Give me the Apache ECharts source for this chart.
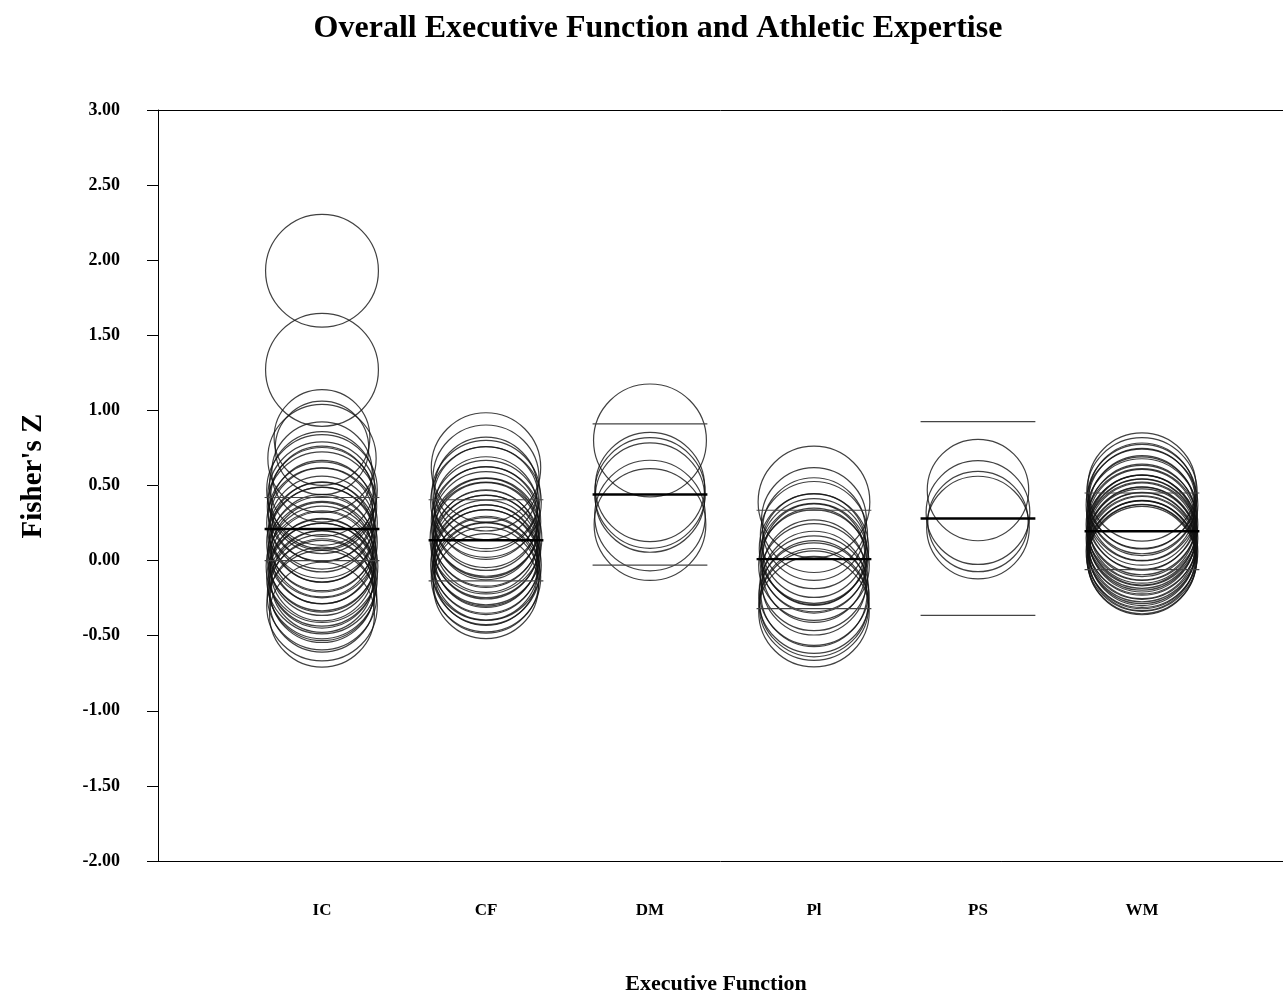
<!DOCTYPE html>
<html>
<head>
<meta charset="utf-8">
<title>Overall Executive Function and Athletic Expertise</title>
<script src="https://cdn.jsdelivr.net/npm/echarts@6/dist/echarts.min.js"></script>
<style>
  html, body { margin: 0; padding: 0; background: #fff; }
  #chart { width: 1283px; height: 998px; }
</style>
</head>
<body>
<div id="chart"></div>
<script>
// Executive function domains on the x axis
const categories = ['IC', 'CF', 'DM', 'Pl', 'PS', 'WM'];

// Study effect sizes (Fisher's Z) for each domain
const zIC = [1.93, 1.27, 0.82, 0.75, 0.68, 0.59, 0.51, 0.47, 0.43, 0.42, 0.40, 0.36, 0.33, 0.30, 0.27, 0.25, 0.21, 0.19, 0.16, 0.14, 0.12, 0.10, 0.07, 0.05, 0.03, 0.01, -0.02, -0.04, -0.06, -0.08, -0.10, -0.12, -0.14, -0.16, -0.18, -0.20, -0.23, -0.26, -0.30, -0.36];
const zCF = [0.62, 0.55, 0.48, 0.44, 0.41, 0.39, 0.35, 0.31, 0.28, 0.26, 0.24, 0.21, 0.19, 0.17, 0.15, 0.13, 0.11, 0.09, 0.07, 0.05, 0.03, 0.01, -0.01, -0.03, -0.05, -0.07, -0.09, -0.11, -0.13, -0.17];
const zDM = [0.80, 0.49, 0.45, 0.42, 0.30, 0.24];
const zPl = [0.39, 0.27, 0.21, 0.17, 0.10, 0.08, 0.06, 0.04, 0.02, 0.00, -0.03, -0.07, -0.11, -0.15, -0.20, -0.22, -0.25, -0.28, -0.30, -0.34];
const zPS = [0.47, 0.32, 0.26, 0.22];
const zWM = [0.49, 0.45, 0.43, 0.41, 0.39, 0.37, 0.35, 0.33, 0.31, 0.29, 0.27, 0.25, 0.24, 0.22, 0.21, 0.20, 0.19, 0.18, 0.16, 0.15, 0.14, 0.13, 0.11, 0.10, 0.09, 0.07, 0.06, 0.05, 0.04, 0.03, 0.02, 0.01, 0.00];

// Relative study weights (bubble size)
const wIC = [0.99, 0.99, 0.84, 0.82, 0.95, 0.88, 0.92, 0.97, 0.95, 0.90, 0.93, 0.96, 0.89, 0.94, 0.91, 0.97, 0.93, 0.88, 0.95, 0.92, 0.97, 0.90, 0.94, 0.89, 0.96, 0.93, 0.91, 0.98, 0.90, 0.94, 0.92, 0.97, 0.89, 0.95, 0.93, 0.91, 0.96, 0.92, 0.97, 0.92];
const wCF = [0.96, 0.93, 0.90, 0.95, 0.92, 0.97, 0.90, 0.94, 0.91, 0.96, 0.93, 0.89, 0.95, 0.92, 0.98, 0.90, 0.94, 0.91, 0.96, 0.93, 0.90, 0.95, 0.92, 0.97, 0.91, 0.94, 0.90, 0.96, 0.93, 0.92];
const wDM = [0.99, 0.96, 0.97, 0.96, 0.97, 0.98];
const wPl = [0.98, 0.92, 0.90, 0.94, 0.91, 0.96, 0.93, 0.89, 0.95, 0.92, 0.97, 0.90, 0.94, 0.91, 0.96, 0.93, 0.97, 0.95, 0.96, 0.97];
const wPS = [0.89, 0.91, 0.88, 0.90];
const wWM = [0.95, 0.97, 0.93, 0.96, 0.94, 0.98, 0.92, 0.95, 0.97, 0.93, 0.96, 0.94, 0.98, 0.92, 0.95, 0.97, 0.93, 0.96, 0.94, 0.98, 0.92, 0.95, 0.97, 0.93, 0.96, 0.94, 0.98, 0.92, 0.95, 0.97, 0.93, 0.96, 0.95];

// Pooled estimate with lower and upper confidence bounds per domain
const pooledZ = [0.21, 0.135, 0.44, 0.01, 0.28, 0.195];
const ciLower = [0.00, -0.135, -0.03, -0.32, -0.365, -0.06];
const ciUpper = [0.42, 0.405, 0.91, 0.335, 0.925, 0.45];

// Y axis ticks
const yMin = -2, yMax = 3, yStep = 0.5;

const effects = [zIC, zCF, zDM, zPl, zPS, zWM];
const weights = [wIC, wCF, wDM, wPl, wPS, wWM];

const FONT = '"Liberation Serif", "Times New Roman", serif';
const MAX_RADIUS = 57;     // px radius of a full-weight bubble
const HALF_SPAN = 0.35;    // half length of the pooled / CI segments in x units
const X_MAX = 6.86;        // x range shown; the frame continues past the right edge

const chart = echarts.init(document.getElementById('chart'), null, { renderer: 'canvas' });

const bubbleSeries = categories.map((name, i) => ({
  type: 'scatter',
  name: name,
  symbol: 'circle',
  symbolSize: d => 2 * MAX_RADIUS * d[2],
  itemStyle: { color: 'rgba(0,0,0,0)', borderColor: '#111', borderWidth: 1.2 },
  emphasis: { disabled: true },
  silent: true,
  z: 2,
  data: effects[i].map((z, k) => [i + 1, z, weights[i][k]])
}));

const summarySeries = {
  type: 'custom',
  name: 'pooled',
  silent: true,
  z: 5,
  clip: false,
  data: categories.map((c, i) => [i + 1, pooledZ[i], ciLower[i], ciUpper[i]]),
  renderItem: function (params, api) {
    const x = api.value(0);
    const seg = (v, w, col) => {
      const a = api.coord([x - HALF_SPAN, v]);
      const b = api.coord([x + HALF_SPAN, v]);
      return {
        type: 'line',
        shape: { x1: a[0], y1: a[1], x2: b[0], y2: b[1] },
        style: { stroke: col, lineWidth: w }
      };
    };
    return {
      type: 'group',
      children: [
        seg(api.value(2), 1.1, '#444'),
        seg(api.value(3), 1.1, '#444'),
        seg(api.value(1), 2.4, '#000')
      ]
    };
  }
};

chart.setOption({
  animation: false,
  backgroundColor: '#fff',
  grid: { left: 158, top: 110, bottom: 137, right: 0, show: false },
  xAxis: [
    {
      type: 'value',
      position: 'bottom',
      min: 0, max: X_MAX, interval: 1,
      axisLine: { show: true, onZero: false, lineStyle: { color: '#000', width: 1 } },
      axisTick: { show: false },
      splitLine: { show: false },
      axisLabel: {
        margin: 41,
        color: '#000',
        showMaxLabel: false,
        fontFamily: FONT, fontWeight: 'bold', fontSize: 17,
        formatter: v => categories[Math.round(v) - 1] || ''
      }
    },
    {
      type: 'value',
      position: 'top',
      min: 0, max: X_MAX,
      axisLine: { show: true, onZero: false, lineStyle: { color: '#000', width: 1 } },
      axisTick: { show: false },
      axisLabel: { show: false },
      splitLine: { show: false }
    }
  ],
  yAxis: {
    type: 'value',
    min: yMin, max: yMax, interval: yStep,
    axisLine: { show: true, lineStyle: { color: '#000', width: 1 } },
    axisTick: { show: true, inside: false, length: 11, lineStyle: { color: '#000', width: 1 } },
    splitLine: { show: false },
    axisLabel: {
      margin: 38,
      color: '#000',
      fontFamily: FONT, fontWeight: 'bold', fontSize: 18,
      formatter: v => v.toFixed(2)
    }
  },
  graphic: [
    {
      type: 'text', x: 658, y: 29, silent: true,
      style: {
        text: 'Overall Executive Function and Athletic Expertise',
        fill: '#000', font: 'bold 32px ' + FONT, align: 'center', verticalAlign: 'middle'
      }
    },
    {
      type: 'text', x: 716, y: 984, silent: true,
      style: {
        text: 'Executive Function',
        fill: '#000', font: 'bold 22px ' + FONT, align: 'center', verticalAlign: 'middle'
      }
    },
    {
      type: 'text', x: 34, y: 476, rotation: Math.PI / 2, silent: true,
      style: {
        text: "Fisher's Z",
        fill: '#000', font: 'bold 29px ' + FONT, align: 'center', verticalAlign: 'middle'
      }
    }
  ],
  series: bubbleSeries.concat([summarySeries])
});
</script>
</body>
</html>
